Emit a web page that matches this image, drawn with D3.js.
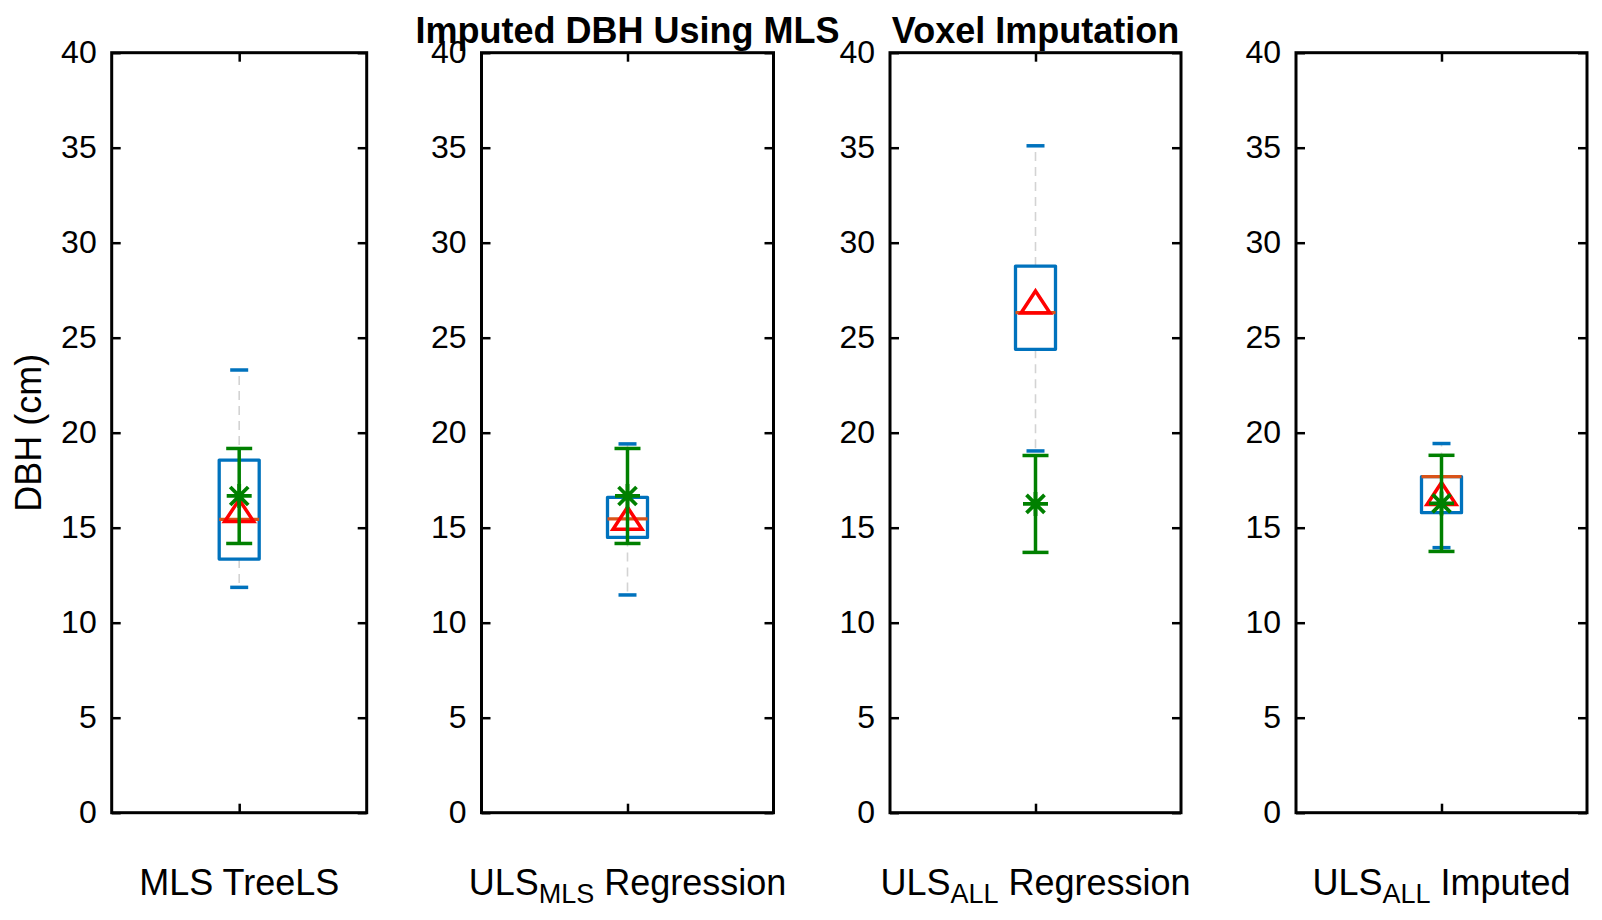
<!DOCTYPE html>
<html>
<head>
<meta charset="utf-8">
<script src="https://cdn.jsdelivr.net/npm/d3@7"></script>
<style>
  body { margin: 0; background: #fff; }
  text { font-family: "Liberation Sans", Arial, sans-serif; fill: #000; }
</style>
</head>
<body>
<svg id="chart"></svg>
<script>
// one boxplot per panel (cm)
const labelBase = ['MLS TreeLS', 'ULS', 'ULS', 'ULS'];
const labelSub = ['', 'MLS', 'ALL', 'ALL'];
const labelTail = ['', ' Regression', ' Regression', ' Imputed'];
const panelTitles = ['', 'Imputed DBH Using MLS', 'Voxel Imputation', ''];

const whiskerLow = [11.86, 11.46, 19.04, 13.95];
const q1 = [13.35, 14.49, 24.39, 15.79];
const medians = [15.44, 15.46, 26.32, 17.69];
const q3 = [18.56, 16.6, 28.77, 17.69];
const whiskerHigh = [23.3, 19.41, 35.1, 19.43];
const means = [15.9, 15.5, 26.88, 16.8];          // red triangles
const refMean = [16.67, 16.67, 16.25, 16.28];     // green asterisk
const refStd = [2.5, 2.5, 2.55, 2.53];            // green error bar
const yTicks = [0, 5, 10, 15, 20, 25, 30, 35, 40];

let svgWidth = 1602, svgHeight = 920;
let panelLeft = [111.7, 481.5, 890, 1296];
let panelRight = [366.7, 773.5, 1181, 1587];
let plotTop = 52.7, plotBottom = 812.7;

let svg = d3.select('#chart')
            .attr('width', svgWidth)
            .attr('height', svgHeight);

let yScale = d3.scaleLinear()
               .domain([0, 40])
               .range([plotBottom, plotTop]);

let blue = '#0072BD', orange = '#D95319', green = '#008000', red = '#FF0000';
let boxW = 40, capW = 18, errCapW = 26;

labelBase.forEach(function(base, i) {
  let cat = 'c' + i;
  let xScale = d3.scalePoint()
                 .domain([cat])
                 .range([panelLeft[i], panelRight[i]])
                 .padding(0.5);
  let cx = xScale(cat);
  let g = svg.append('g');

  // axes, ticks pointing inward
  let left = g.append('g')
    .attr('transform', 'translate(' + panelLeft[i] + ',0)')
    .call(d3.axisLeft(yScale).tickValues(yTicks).tickSizeInner(-9).tickSizeOuter(0).tickPadding(15));
  left.selectAll('text').style('font-size', '32px');
  g.append('g')
    .attr('transform', 'translate(' + panelRight[i] + ',0)')
    .call(d3.axisRight(yScale).tickValues(yTicks).tickSizeInner(-9).tickSizeOuter(0).tickFormat(''));
  g.append('g')
    .attr('transform', 'translate(0,' + plotBottom + ')')
    .call(d3.axisBottom(xScale).tickSizeInner(-9).tickSizeOuter(0).tickFormat(''));
  g.append('g')
    .attr('transform', 'translate(0,' + plotTop + ')')
    .call(d3.axisTop(xScale).tickSizeInner(-9).tickSizeOuter(0).tickFormat(''));
  g.selectAll('.domain').remove();
  g.selectAll('.tick line').attr('stroke', '#000').attr('stroke-width', 2.5);

  g.append('rect')
    .attr('x', panelLeft[i]).attr('y', plotTop)
    .attr('width', panelRight[i] - panelLeft[i])
    .attr('height', plotBottom - plotTop)
    .attr('fill', 'none').attr('stroke', '#000').attr('stroke-width', 3);

  // dashed whiskers
  g.append('line')
    .attr('x1', cx).attr('x2', cx)
    .attr('y1', yScale(q3[i])).attr('y2', yScale(whiskerHigh[i]))
    .attr('stroke', '#d3d3d3').attr('stroke-width', 1.6).attr('stroke-dasharray', '9,6');
  g.append('line')
    .attr('x1', cx).attr('x2', cx)
    .attr('y1', yScale(q1[i])).attr('y2', yScale(whiskerLow[i]))
    .attr('stroke', '#d3d3d3').attr('stroke-width', 1.6).attr('stroke-dasharray', '9,6');

  // whisker caps
  [whiskerLow[i], whiskerHigh[i]].forEach(function(v) {
    g.append('line')
      .attr('x1', cx - capW / 2).attr('x2', cx + capW / 2)
      .attr('y1', yScale(v)).attr('y2', yScale(v))
      .attr('stroke', blue).attr('stroke-width', 3.5);
  });

  // box
  g.append('rect')
    .attr('x', cx - boxW / 2).attr('y', yScale(q3[i]))
    .attr('width', boxW).attr('height', yScale(q1[i]) - yScale(q3[i]))
    .attr('fill', 'none').attr('stroke', blue).attr('stroke-width', 3.3)
    .attr('stroke-linejoin', 'round');

  // median
  g.append('line')
    .attr('x1', cx - boxW / 2).attr('x2', cx + boxW / 2)
    .attr('y1', yScale(medians[i])).attr('y2', yScale(medians[i]))
    .attr('stroke', orange).attr('stroke-width', 3.3);

  // mean triangle
  g.append('path')
    .attr('transform', 'translate(' + cx + ',' + yScale(means[i]) + ')')
    .attr('d', 'M0,-11L14.5,11L-14.5,11Z')
    .attr('fill', 'none').attr('stroke', red).attr('stroke-width', 3.5);

  // reference mean +- std
  let yHi = yScale(refMean[i] + refStd[i]), yLo = yScale(refMean[i] - refStd[i]);
  g.append('line')
    .attr('x1', cx).attr('x2', cx).attr('y1', yHi).attr('y2', yLo)
    .attr('stroke', green).attr('stroke-width', 3.5);
  [yHi, yLo].forEach(function(y) {
    g.append('line')
      .attr('x1', cx - errCapW / 2).attr('x2', cx + errCapW / 2)
      .attr('y1', y).attr('y2', y)
      .attr('stroke', green).attr('stroke-width', 3.5);
  });
  g.append('path')
    .attr('transform', 'translate(' + cx + ',' + yScale(refMean[i]) + ')')
    .attr('d', 'M-12.5,0L12.5,0M0,-12L0,12M-9,-9L9,9M-9,9L9,-9')
    .attr('fill', 'none').attr('stroke', green).attr('stroke-width', 3.8);

  // category label with subscript
  let lab = g.append('text')
    .attr('x', cx).attr('y', 895)
    .attr('text-anchor', 'middle')
    .style('font-size', '36px');
  lab.append('tspan').text(base);
  if (labelSub[i]) {
    lab.append('tspan').text(labelSub[i]).attr('dy', 7.5).style('font-size', '27px');
    lab.append('tspan').text(labelTail[i]).attr('dy', -7.5);
  }

  if (panelTitles[i]) {
    g.append('text')
      .attr('x', cx).attr('y', 43)
      .attr('text-anchor', 'middle')
      .style('font-size', '36px').style('font-weight', 'bold')
      .text(panelTitles[i]);
  }
});

svg.append('text')
   .attr('transform', 'translate(41,' + (plotTop + plotBottom) / 2 + ') rotate(-90)')
   .attr('text-anchor', 'middle')
   .style('font-size', '36px')
   .text('DBH (cm)');
</script>
</body>
</html>
